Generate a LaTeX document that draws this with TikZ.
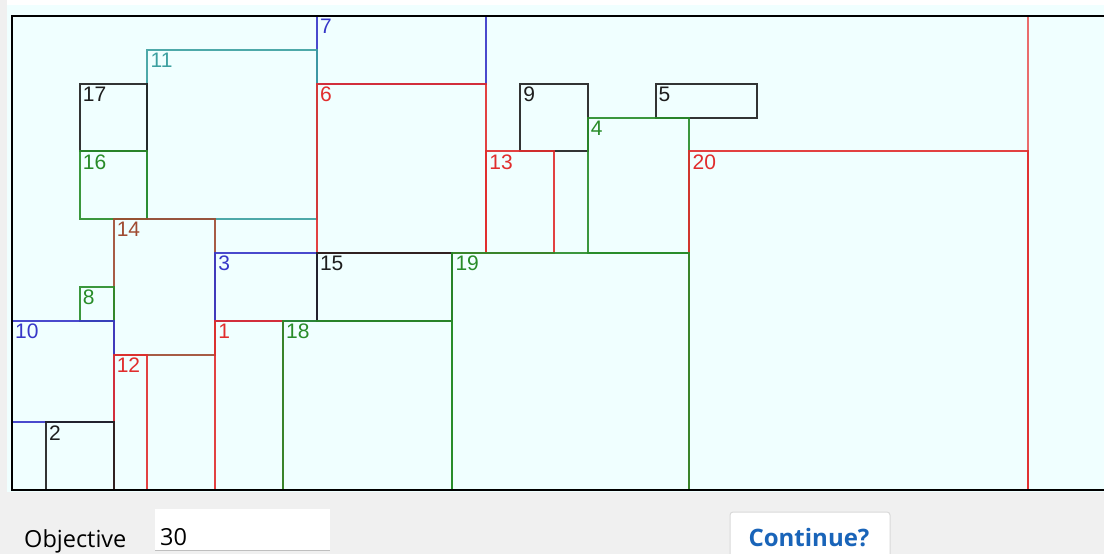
\documentclass[tikz,border=0pt]{standalone}
\usepackage{fontspec}
\setmainfont{Liberation Sans}
\newfontfamily\uifont{Open Sans}
\usepackage{tikz}
\usetikzlibrary{positioning}

\definecolor{formbg}{RGB}{240,240,240}
\definecolor{panelbg}{RGB}{240,255,255}
\definecolor{cblue}{RGB}{55,55,200}
\definecolor{cteal}{RGB}{60,160,160}
\definecolor{cgreen}{RGB}{40,140,40}
\definecolor{cred}{RGB}{225,45,45}
\definecolor{cbrown}{RGB}{160,75,50}
\definecolor{cblack}{RGB}{30,30,30}
\definecolor{btntext}{RGB}{25,100,185}

\begin{document}
\begin{tikzpicture}[x=1pt,y=-1pt]
\tikzset{
	item box/.style = {draw = #1, line width = 2pt, draw opacity = 0.9},
	item label/.style = {anchor = north west, inner sep = 0, text = #1,
		font = \fontsize{21}{21}\selectfont},
	ui text/.style = {inner sep = 0, font = \uifont\fontsize{23.5}{23.5}\selectfont},
	frame line/.style = {line width = 2.8pt, draw = black}
}
\useasboundingbox (0,0) rectangle (1104,554);
\fill[formbg] (0,0) rectangle (1104,554);
\fill[white] (7,0) rectangle (1104,5);
\fill[panelbg] (7,5) rectangle (1104,492);

% strip width limit
\draw[cred!70, line width = 2pt] (1028,16) -- (1028,490);

% packed items, in grid units
\begin{scope}[xshift = 12pt, yshift = -16pt, x = 33.87pt, y = -33.87pt]
\foreach \xa/\ya/\xb/\yb/\col/\n in {
	9/0/14/2/cblue/7, 4/1/9/6/cteal/11, 2/2/4/4/cblack/17, 2/4/4/6/cgreen/16,
	9/2/14/7/cred/6, 15/2/17/4/cblack/9, 19/2/22/3/cblack/5, 17/3/20/7/cgreen/4,
	14/4/16/7/cred/13, 20/4/30/14/cred/20, 3/6/6/10/cbrown/14, 6/7/9/9/cblue/3,
	9/7/13/9/cblack/15, 13/7/20/14/cgreen/19, 2/8/3/9/cgreen/8, 0/9/3/12/cblue/10,
	6/9/8/14/cred/1, 8/9/13/14/cgreen/18, 3/10/4/14/cred/12, 1/12/3/14/cblack/2}
{
	\draw[item box = \col] (\xa,\ya) rectangle (\xb,\yb);
	\node (l\n) [item label = \col, xshift = 3pt, yshift = -3pt] at (\xa,\ya) {\n};
}
\end{scope}

% strip frame
\draw[frame line] (1104,16) -- (12,16) -- (12,490) -- (1104,490);

% objective field
\node (objective) [ui text, anchor = base west] at (24,547) {Objective};
\fill[white] (155,509) rectangle (330,550);
\draw[black!25, line width = 1pt] (155,550) -- (330,550);
\node (objval) [ui text, anchor = base west] at (160,545) {30};

% continue button
\draw[fill = white, draw = black!15, line width = 1pt, rounded corners = 3pt]
	(730,512) rectangle (890,562);
\node (continue) [ui text, font = \uifont\bfseries\fontsize{24}{24}\selectfont,
	text = btntext, anchor = base] at (809,546) {Continue?};
\end{tikzpicture}
\end{document}
